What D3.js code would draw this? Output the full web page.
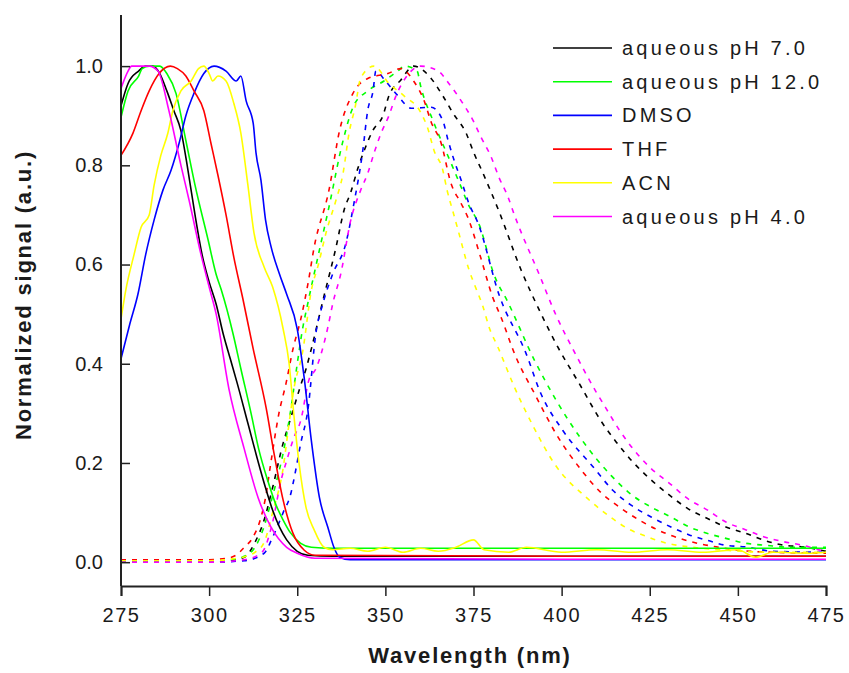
<!DOCTYPE html>
<html>
<head>
<meta charset="utf-8">
<script src="https://cdn.jsdelivr.net/npm/d3@7"></script>
<style>
  body { margin: 0; background: #fff; }
  text { font-family: Arial, "Liberation Sans", sans-serif; fill: #1a1a1a; }
</style>
</head>
<body>
<svg id="chart" width="849" height="673"></svg>
<script>
// series names and colours (legend order)
const seriesNames = ["aqueous pH 7.0", "aqueous pH 12.0", "DMSO", "THF", "ACN", "aqueous pH 4.0"];
const seriesColors = ["#000000", "#00ff00", "#0000ff", "#ff0000", "#ffff00", "#ff00ff"];

// absorption (solid) - [wavelength nm, normalized signal]
const absPH7 = [[275,0.92],[277,0.965],[280,0.99],[282,1.0],[284,1.0],[286,0.985],[288,0.95],[290,0.91],[292,0.87],[294,0.79],[296,0.70],[298,0.62],[300,0.565],[302,0.52],[304,0.46],[306,0.41],[308,0.36],[311,0.28],[314,0.20],[316,0.15],[318,0.105],[320,0.07],[322,0.045],[325,0.022],[328,0.014],[335,0.012],[375,0.012],[425,0.012],[475,0.012]];
const absPH12 = [[275,0.897],[277,0.95],[280,0.98],[281,0.995],[283,1.0],[286,1.0],[288,0.985],[290.6,0.945],[293.4,0.85],[296,0.76],[299.7,0.65],[302,0.58],[303.4,0.55],[306.8,0.46],[309,0.39],[311.9,0.30],[314,0.23],[316.6,0.165],[319,0.115],[321,0.085],[323,0.06],[326,0.038],[329,0.03],[335,0.028],[400,0.028],[475,0.028]];
const absDMSO = [[275,0.41],[277.5,0.48],[279.8,0.54],[282,0.62],[284.4,0.69],[286.9,0.75],[289.2,0.79],[291.5,0.845],[293.4,0.90],[295.7,0.945],[298.5,0.985],[301.4,1.0],[304.8,0.99],[307.7,0.97],[309,0.98],[310.5,0.93],[312.5,0.885],[313.3,0.825],[314.7,0.77],[316,0.69],[317.6,0.635],[320,0.58],[322,0.54],[325,0.47],[327,0.37],[329,0.245],[331.3,0.13],[333.7,0.07],[335.4,0.03],[337,0.01],[340,0.005],[400,0.005],[475,0.005]];
const absTHF = [[275,0.82],[278.4,0.865],[280.7,0.91],[283,0.95],[285.8,0.985],[289,1.0],[291,0.995],[293.4,0.98],[295.7,0.95],[298.5,0.91],[300.5,0.845],[302.5,0.78],[304.8,0.70],[307,0.615],[309.6,0.53],[312.5,0.43],[316.2,0.31],[318.4,0.22],[321,0.125],[323.8,0.058],[327,0.024],[330,0.014],[400,0.012],[475,0.012]];
const absACN = [[275,0.49],[276.4,0.55],[278.7,0.62],[280.7,0.675],[283,0.70],[284.4,0.76],[286.3,0.82],[288.3,0.865],[289.7,0.91],[292,0.95],[294.9,0.97],[297,0.995],[298.5,1.0],[300,0.985],[301,0.97],[302.5,0.98],[304.8,0.97],[307,0.925],[309,0.865],[311,0.76],[312.7,0.665],[315.6,0.595],[318,0.555],[321,0.47],[322.7,0.40],[324,0.30],[325.5,0.20],[327.5,0.11],[329.8,0.065],[332.6,0.03],[335,0.025],[340,0.028],[345,0.022],[350,0.03],[355,0.02],[360,0.028],[365,0.022],[370,0.03],[375,0.045],[378,0.025],[385,0.02],[390,0.03],[400,0.02],[410,0.025],[420,0.02],[430,0.025],[440,0.02],[450,0.025],[455,0.01],[460,0.02],[470,0.018],[475,0.02]];
const absPH4 = [[275,0.955],[277,0.99],[278,1.0],[283,1.0],[285.5,0.99],[288.6,0.91],[292,0.80],[294.3,0.73],[297.7,0.62],[300,0.555],[302,0.50],[305.6,0.35],[309.9,0.23],[313.9,0.13],[317.6,0.07],[322,0.03],[325,0.018],[330,0.008],[400,0.006],[475,0.006]];

// emission (dashed)
const emPH7 = [[275,0.0],[300,0.0],[305,0.002],[310,0.01],[313,0.04],[315.6,0.085],[318,0.15],[321,0.24],[322.7,0.28],[326,0.357],[327.5,0.39],[329,0.43],[332.3,0.528],[336,0.635],[338.3,0.71],[340.2,0.746],[342.2,0.794],[344,0.83],[346.5,0.871],[349.3,0.90],[351,0.94],[354.4,0.972],[358,1.0],[362.4,0.98],[366.3,0.94],[369.2,0.905],[372.9,0.865],[375.1,0.825],[377.7,0.784],[382.3,0.706],[388.5,0.589],[393.2,0.515],[398.9,0.434],[405,0.36],[411.6,0.28],[415.4,0.243],[420.2,0.202],[424.9,0.169],[430.6,0.135],[435.8,0.108],[441.4,0.088],[446.6,0.071],[452.3,0.058],[457.5,0.044],[463.2,0.034],[468.4,0.031],[473.6,0.024],[475,0.022]];
const emPH12 = [[275,0.0],[300,0.0],[306,0.005],[310,0.012],[313,0.03],[315.5,0.07],[317.5,0.12],[319,0.16],[321,0.22],[323,0.30],[325,0.40],[326.5,0.47],[328,0.522],[331,0.62],[334,0.716],[338,0.85],[341,0.92],[345,0.95],[349.6,0.97],[353.5,0.99],[355.5,1.0],[359,0.99],[360,0.96],[363.8,0.885],[368.6,0.805],[371.5,0.756],[373.4,0.723],[376.7,0.679],[380.8,0.58],[384.7,0.525],[392.3,0.407],[398.4,0.327],[405.5,0.249],[414,0.175],[420,0.135],[425.4,0.111],[431,0.091],[436.2,0.071],[441.4,0.058],[446.6,0.048],[452.3,0.038],[458,0.034],[465,0.03],[475,0.03]];
const emDMSO = [[275,0.0],[300,0.0],[310,0.003],[315.6,0.018],[318,0.05],[321,0.10],[323.2,0.139],[324,0.165],[326,0.24],[328,0.306],[330.3,0.462],[332.3,0.522],[335,0.58],[338.8,0.643],[341.1,0.724],[343.6,0.83],[345,0.911],[346.5,0.95],[347.3,0.99],[350,0.97],[353.6,0.94],[357.3,0.915],[363,0.917],[366.3,0.89],[367.8,0.85],[369.5,0.81],[371.5,0.77],[373.7,0.723],[376.3,0.683],[382.3,0.538],[389.9,0.421],[394.1,0.34],[400.3,0.266],[409.3,0.189],[414.5,0.145],[419.7,0.115],[425.4,0.091],[431,0.071],[436.2,0.055],[441.4,0.044],[446.6,0.034],[452,0.031],[460,0.022],[475,0.02]];
const emTHF = [[275,0.005],[300,0.005],[305,0.008],[307.6,0.014],[310,0.03],[312.4,0.05],[314.7,0.09],[316,0.13],[317.5,0.2],[319.8,0.30],[321.8,0.36],[323.8,0.43],[326,0.49],[328,0.56],[329.8,0.635],[334,0.75],[337,0.87],[340.8,0.945],[345,0.975],[350.7,0.985],[354.4,0.995],[358,0.97],[361,0.93],[363,0.887],[365.8,0.845],[368.6,0.764],[371.5,0.723],[373.4,0.695],[377,0.615],[380.4,0.535],[382.8,0.494],[387,0.414],[392.3,0.34],[398.4,0.259],[406,0.182],[411.2,0.14],[416.4,0.111],[422,0.085],[427.3,0.065],[433.4,0.048],[438.6,0.038],[443.8,0.031],[450,0.024],[460,0.02],[475,0.018]];
const emACN = [[275,0.003],[300,0.003],[306,0.006],[310.5,0.012],[313,0.02],[315.6,0.04],[318,0.10],[321,0.19],[322.5,0.27],[324,0.347],[326.6,0.427],[329,0.548],[331,0.60],[333.2,0.665],[336,0.73],[338,0.784],[339.7,0.865],[341.5,0.92],[343,0.976],[346.8,1.0],[351,0.965],[355.3,0.94],[360,0.907],[362,0.875],[363.8,0.83],[366.3,0.79],[367.5,0.75],[369.2,0.706],[370.6,0.67],[373.7,0.59],[375.7,0.552],[377.7,0.515],[379.4,0.474],[381.9,0.434],[386.6,0.353],[391.8,0.276],[397.9,0.199],[407.4,0.128],[413.1,0.095],[418.7,0.068],[424.4,0.051],[430,0.038],[436,0.031],[445,0.025],[460,0.02],[475,0.02]];
const emPH4 = [[275,0.0],[300,0.0],[310,0.005],[315,0.02],[318,0.08],[320.4,0.165],[321.8,0.20],[324,0.25],[326,0.286],[328.3,0.367],[330.3,0.39],[333.7,0.474],[335.1,0.522],[337.4,0.583],[340.2,0.69],[343,0.75],[345,0.784],[346.8,0.825],[348.8,0.865],[351,0.90],[353,0.94],[355.9,0.978],[360,1.0],[365,0.99],[368,0.965],[371.5,0.93],[374.9,0.89],[377.1,0.857],[380,0.817],[382.2,0.776],[384.8,0.736],[386.6,0.70],[393.7,0.579],[398.4,0.498],[403.6,0.424],[409.8,0.343],[412.6,0.31],[416.4,0.266],[420.2,0.229],[424.9,0.192],[430.6,0.159],[435.8,0.128],[441.4,0.105],[446.6,0.081],[452.3,0.065],[457.5,0.051],[463.2,0.041],[468.4,0.034],[473.6,0.024],[475,0.022]];

const absSeries = [absPH7, absPH12, absDMSO, absTHF, absACN, absPH4];
const emSeries = [emPH7, emPH12, emDMSO, emTHF, emACN, emPH4];

const xTicks = [275, 300, 325, 350, 375, 400, 425, 450, 475];
const yTicks = [0.0, 0.2, 0.4, 0.6, 0.8, 1.0];

// layout
const svg = d3.select('#chart');
const x = d3.scaleLinear().domain([275, 475]).range([121, 826]);
const y = d3.scaleLinear().domain([-0.048, 1.103]).range([586, 15]);

const line = d3.line()
    .x(d => x(d[0]))
    .y(d => y(d[1]))
    .curve(d3.curveMonotoneX);

// emission curves (dashed)
emSeries.forEach(function(s, i) {
    svg.append('path')
        .datum(s)
        .attr('d', line)
        .attr('fill', 'none')
        .attr('stroke', seriesColors[i])
        .attr('stroke-width', 1.6)
        .attr('stroke-dasharray', '5,6');
});

// absorption curves (solid)
absSeries.forEach(function(s, i) {
    svg.append('path')
        .datum(s)
        .attr('d', line)
        .attr('fill', 'none')
        .attr('stroke', seriesColors[i])
        .attr('stroke-width', 1.6);
});

// X axis - major ticks with labels, minor ticks between
const xAxis = svg.append('g').attr('transform', 'translate(0,586)');
xAxis.call(d3.axisBottom(x).tickValues(d3.range(275, 476, 12.5)).tickSize(5).tickFormat(''))
    .call(g => g.select('.domain').remove());
xAxis.call(d3.axisBottom(x).tickValues(xTicks).tickSize(10).tickPadding(12).tickFormat(d3.format('d')))
    .call(g => g.select('.domain').attr('stroke-width', 2).attr('stroke', '#222'));
xAxis.selectAll('line').attr('stroke', '#222').attr('stroke-width', 1.5);
xAxis.selectAll('text')
    .style('font-size', '20px')
    .style('letter-spacing', '1.5px')
    .attr('fill', '#1a1a1a');

// Y axis - ticks point inward
const yAxis = svg.append('g').attr('transform', 'translate(121,0)');
yAxis.call(d3.axisLeft(y).tickValues(d3.range(0, 1.05, 0.1)).tickSize(-5).tickFormat(''))
    .call(g => g.select('.domain').remove());
yAxis.call(d3.axisLeft(y).tickValues(yTicks).tickSize(-9).tickPadding(18).tickFormat(d3.format('.1f')))
    .call(g => g.select('.domain').attr('d', 'M0,586V15').attr('stroke-width', 2).attr('stroke', '#222'));
yAxis.selectAll('line').attr('stroke', '#222').attr('stroke-width', 1.5);
yAxis.selectAll('text')
    .style('font-size', '20px')
    .attr('fill', '#1a1a1a');

// axis titles
svg.append('text')
    .attr('x', 470)
    .attr('y', 663)
    .attr('text-anchor', 'middle')
    .style('font-size', '22px')
    .style('font-weight', 'bold')
    .style('letter-spacing', '1.8px')
    .text('Wavelength (nm)');

svg.append('text')
    .attr('transform', 'translate(31,295) rotate(-90)')
    .attr('text-anchor', 'middle')
    .style('font-size', '22px')
    .style('font-weight', 'bold')
    .style('letter-spacing', '1.8px')
    .text('Normalized signal (a.u.)');

// legend
const legend = svg.append('g');
seriesNames.forEach(function(name, i) {
    const ly = 48 + i * 33.7;
    legend.append('line')
        .attr('x1', 553).attr('x2', 612)
        .attr('y1', ly).attr('y2', ly)
        .attr('stroke', seriesColors[i])
        .attr('stroke-width', 1.6);
    legend.append('text')
        .attr('x', 622)
        .attr('y', ly + 7)
        .style('font-size', '20px')
        .style('letter-spacing', '3.2px')
        .text(name);
});
</script>
</body>
</html>
